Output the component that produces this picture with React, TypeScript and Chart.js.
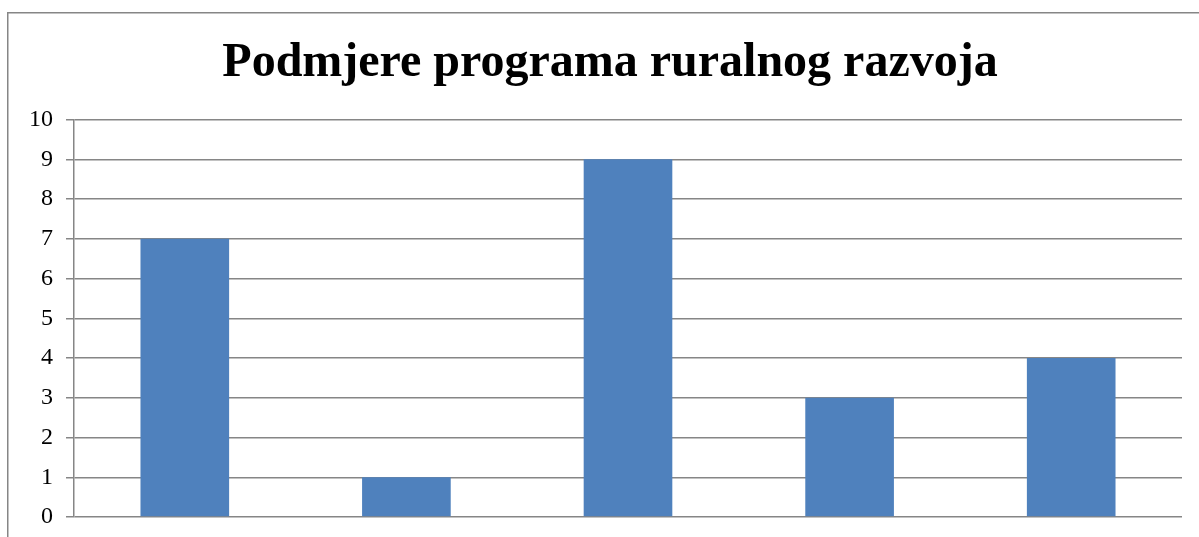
import React, { useEffect, useRef } from "react";
import { Chart, registerables } from "chart.js";

Chart.register(...registerables);

const TITLE = "Podmjere programa ruralnog razvoja";
const categories = ["1", "2", "3", "4", "5"];
const values = [7, 1, 9, 3, 4];
const yTicks = [0, 1, 2, 3, 4, 5, 6, 7, 8, 9, 10];

const W = 1199;
const H = 537;
const SERIF = "'Liberation Serif', 'Times New Roman', serif";

const borderPlugin = {
  id: "outerBorder",
  beforeDraw(chart: any) {
    const ctx = chart.ctx;
    ctx.save();
    ctx.fillStyle = "#ffffff";
    ctx.fillRect(0, 0, chart.width, chart.height);
    ctx.strokeStyle = "#868686";
    ctx.lineWidth = 1.5;
    ctx.strokeRect(7.75, 12.75, chart.width + 50, chart.height + 50);
    ctx.restore();
  },
};

const titleShiftPlugin = {
  id: "titleShift",
  afterLayout(chart: any) {
    const tb = chart.titleBlock;
    if (tb) {
      tb.left += 9;
      tb.right += 9;
    }
  },
};

export default function App() {
  const ref = useRef<HTMLCanvasElement | null>(null);
  useEffect(() => {
    if (!ref.current) return;
    const chart = new Chart(ref.current, {
      type: "bar",
      data: {
        labels: categories,
        datasets: [
          {
            data: values,
            backgroundColor: "#4F81BD",
            borderWidth: 0,
            barPercentage: 0.4,
            categoryPercentage: 1,
          },
        ],
      },
      options: {
        responsive: false,
        animation: false,
        devicePixelRatio: 1,
        layout: { padding: { left: 20, right: 17, top: 0, bottom: 20 } },
        plugins: {
          legend: { display: false },
          tooltip: { enabled: false },
          title: {
            display: true,
            text: TITLE,
            color: "#000000",
            font: { family: SERIF, size: 48, weight: "bold", lineHeight: 1.2 },
            padding: { top: 35, bottom: 27 },
          },
        },
        scales: {
          x: {
            display: false,
            grid: { display: false },
          },
          y: {
            min: 0,
            max: 10,
            afterBuildTicks(scale: any) {
              scale.ticks = yTicks.map((v) => ({ value: v }));
            },
            afterFit(scale: any) {
              scale.width = 54;
              scale.paddingTop = 0;
              scale.paddingBottom = 0;
            },
            ticks: {
              stepSize: 1,
              padding: 13,
              color: "#000000",
              font: { family: SERIF, size: 24 },
            },
            grid: {
              color: "#868686",
              lineWidth: 1.5,
              tickLength: 8,
              drawTicks: true,
            },
            border: { display: true, color: "#868686", width: 1.5 },
          },
        },
      },
      plugins: [borderPlugin, titleShiftPlugin],
    });
    return () => chart.destroy();
  }, []);
  return (
    <div style={{ position: "absolute", left: 0, top: 0, width: W, height: H }}>
      <canvas ref={ref} width={W} height={H} style={{ display: "block", width: W, height: H }} />
    </div>
  );
}
